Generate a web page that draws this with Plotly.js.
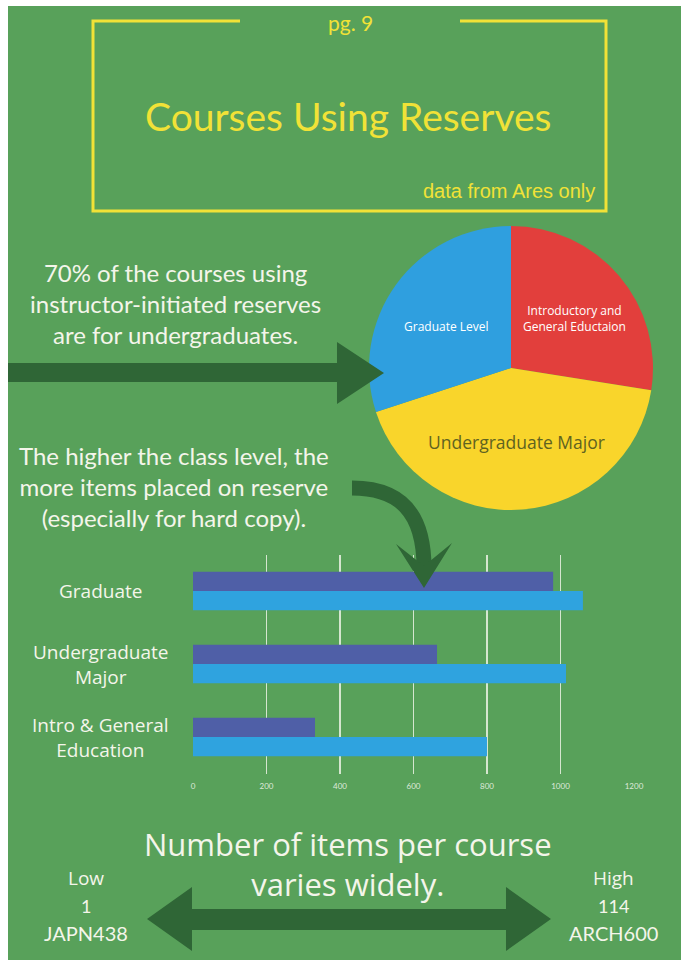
<!DOCTYPE html>
<html>
<head>
<meta charset="utf-8">
<script src="https://cdn.plot.ly/plotly-3.0.1.min.js"></script>
<style>
html,body{margin:0;padding:0;background:#ffffff;}
#chart{width:681px;height:962px;}
</style>
</head>
<body>
<div id="chart"></div>
<script>
// ---- data ----
const pieLabels = ["Introductory and<br>General Eductaion", "Undergraduate Major", "Graduate Level"];
const pieValues = [27.5, 42.5, 30];
const pieColors = ["#e23f3c", "#f9d52b", "#2f9fdf"];

const barCategories = ["Intro & General Education", "Undergraduate Major", "Graduate"];
const barTickLabels = ["Intro & General<br>Education", "Undergraduate<br>Major", "Graduate"];
const seriesLight = [800, 1015, 1061];
const seriesDark = [332, 664, 980];
const xTickVals = [0, 200, 400, 600, 800, 1000, 1200];

const headline = "Courses Using Reserves";
const pageLabel = "pg. 9";
const sourceNote = "data from Ares only";
const note1 = "70% of the courses using<br>instructor-initiated reserves<br>are for undergraduates.";
const note2 = "The higher the class level, the<br>more items placed on reserve<br>(especially for hard copy).";
const note3 = "Number of items per course<br>varies widely.";
const lowLabel = ["Low", "1", "JAPN438"];
const highLabel = ["High", "114", "ARCH600"];

// ---- helpers (pixel -> paper) ----
const W = 681, H = 962;
const px = x => x / W;
const py = y => 1 - y / H;
function path(pts, close) {
  return pts.map((p, i) => (i ? "L" : "M") + px(p[0]).toFixed(5) + "," + py(p[1]).toFixed(5)).join(" ") + (close ? " Z" : "");
}

const GREEN = "#58a15a";
const DARK = "#2f6636";
const YEL = "#f1e237";
const WHITE = "#f4f5ea";
const HAND = "Open Sans, sans-serif";
const RAL = "Lato, sans-serif";

const traces = [
  {
    type: "pie",
    labels: pieLabels,
    values: pieValues,
    marker: {colors: pieColors, line: {width: 0}},
    sort: false,
    direction: "clockwise",
    rotation: 0,
    textinfo: "none",
    hoverinfo: "label+percent",
    domain: {x: [px(369), px(653)], y: [py(510), py(226)]},
    showlegend: false
  },
  {
    type: "bar",
    orientation: "h",
    name: "Series 2",
    y: barCategories,
    x: seriesLight,
    marker: {color: "#2fa3df"},
    xaxis: "x", yaxis: "y",
    showlegend: false
  },
  {
    type: "bar",
    orientation: "h",
    name: "Series 1",
    y: barCategories,
    x: seriesDark,
    marker: {color: "#4f5fa7"},
    xaxis: "x", yaxis: "y",
    showlegend: false
  }
];

const shapes = [
  // green card
  {type: "rect", xref: "paper", yref: "paper", x0: px(8), x1: px(681), y0: py(960), y1: py(6),
   fillcolor: GREEN, line: {width: 0}, layer: "below"},
  // yellow frame with gap at top
  {type: "path", xref: "paper", yref: "paper",
   path: path([[240, 21], [93, 21], [93, 211], [606, 211], [606, 21], [460, 21]]),
   line: {color: YEL, width: 3}, layer: "below"},
  // straight arrow to pie
  {type: "path", xref: "paper", yref: "paper",
   path: path([[8, 363], [337, 363], [337, 342], [384, 373], [337, 404], [337, 382], [8, 382]], true),
   fillcolor: DARK, line: {width: 0}, layer: "above"},
  // curved arrow shaft
  {type: "path", xref: "paper", yref: "paper",
   path: "M" + px(352) + "," + py(488) + " C" + px(398) + "," + py(488) + " " + px(424) + "," + py(510) + " " + px(424) + "," + py(568),
   line: {color: DARK, width: 15}, layer: "above"},
  // curved arrow head
  {type: "path", xref: "paper", yref: "paper",
   path: path([[396, 544], [424, 566], [452, 543], [424, 588]], true),
   fillcolor: DARK, line: {width: 0}, layer: "above"},
  // double arrow bottom
  {type: "path", xref: "paper", yref: "paper",
   path: path([[147, 919], [192, 887], [192, 909], [506, 909], [506, 887], [551, 919], [506, 951], [506, 930], [192, 930], [192, 951]], true),
   fillcolor: DARK, line: {width: 0}, layer: "below"}
];

const ann = [];
function A(text, x, y, size, color, family, extra) {
  ann.push(Object.assign({text: text, xref: "paper", yref: "paper", x: px(x), y: py(y),
    xanchor: "center", yanchor: "middle", showarrow: false, align: "center",
    font: {size: size, color: color, family: family}}, extra || {}));
}
A(pageLabel, 350, 22, 21, YEL, RAL);
A(headline, 348, 116, 39, YEL, RAL);
A(sourceNote, 509, 191, 20, YEL, "Liberation Sans, Arial, sans-serif");
A(note1, 175, 303, 24, WHITE, RAL);
A(note2, 174, 487, 24, WHITE, RAL);
// pie labels
A(pieLabels[2], 446, 326, 12, "#ffffff", HAND);
A(pieLabels[0], 574, 318, 12, "#ffffff", HAND);
A(pieLabels[1], 516, 442, 17.5, "#5f6321", HAND);
// bar category labels
barCategories.forEach((c, i) => {
  ann.push({text: barTickLabels[i], xref: "paper", yref: "y", x: px(101), y: c,
    xanchor: "center", yanchor: "middle", showarrow: false, align: "center",
    font: {size: 19, color: WHITE, family: HAND}});
});
A(note3, 348, 864, 31, WHITE, HAND);
A(lowLabel[0], 86, 878, 19, WHITE, HAND);
A(lowLabel[1], 86, 906, 18, WHITE, RAL);
A(lowLabel[2], 86, 933, 20, WHITE, RAL);
A(highLabel[0], 613, 878, 19, WHITE, HAND);
A(highLabel[1], 613, 906, 18, WHITE, RAL);
A(highLabel[2], 613, 933, 20, WHITE, RAL);

const layout = {
  width: W, height: H,
  margin: {l: 0, r: 0, t: 0, b: 0, pad: 0},
  paper_bgcolor: "#ffffff",
  plot_bgcolor: "rgba(0,0,0,0)",
  showlegend: false,
  barmode: "group",
  bargap: 0.47,
  bargroupgap: 0,
  xaxis: {
    domain: [px(193), px(634)],
    range: [0, 1200],
    tickvals: xTickVals,
    showgrid: true, gridcolor: "rgba(235,242,228,0.85)", gridwidth: 1.2,
    zeroline: false, showline: false, ticks: "",
    tickfont: {size: 8, color: "#dfe9da", family: RAL},
    ticklabelstandoff: 6,
    fixedrange: true
  },
  yaxis: {
    domain: [py(773.5), py(554.5)],
    type: "category",
    categoryorder: "array",
    categoryarray: barCategories,
    showticklabels: false,
    showgrid: false, zeroline: false, showline: false, ticks: "",
    fixedrange: true
  },
  shapes: shapes,
  annotations: ann
};

Plotly.newPlot("chart", traces, layout, {displayModeBar: false, staticPlot: true});
</script>
</body>
</html>
